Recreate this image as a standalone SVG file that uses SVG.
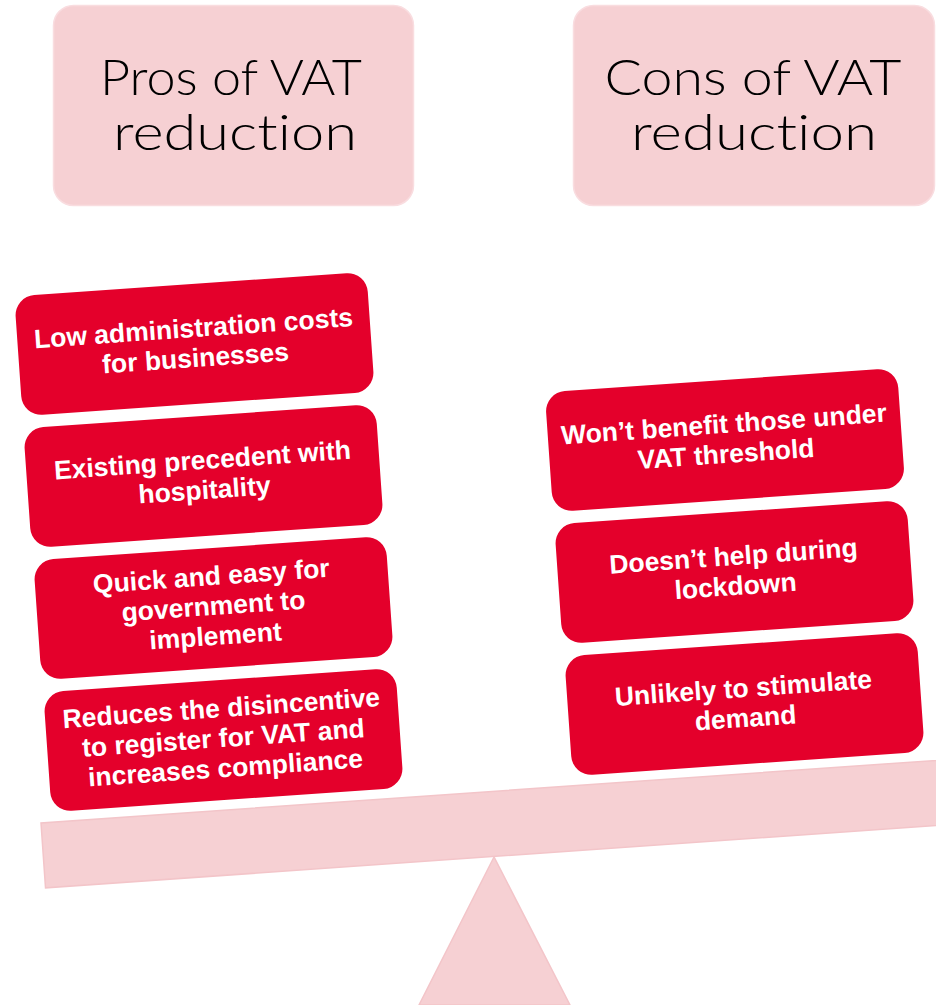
<svg xmlns="http://www.w3.org/2000/svg" width="936" height="1005" viewBox="0 0 936 1005">
<style>
.hdr{fill:#F6D0D3;stroke:#F9DDE0;stroke-width:1.5}
.ht{font-family:Lato,"DejaVu Sans",sans-serif;font-weight:300;font-size:49px;fill:#000;text-anchor:middle;font-variant-ligatures:none;font-feature-settings:"liga" 0,"clig" 0,"dlig" 0}
.card{fill:#E4002B}
.ct{font-family:"Liberation Sans",Arial,sans-serif;font-weight:bold;font-size:26.5px;fill:#fff;text-anchor:middle}
.scale{fill:#F6D0D3;stroke:#F3C5C9;stroke-width:1.5}
</style>
<rect width="936" height="1005" fill="#fff"/>
<g id="fulcrum"><polygon class="scale" points="494,857 419,1005 570,1005"/></g>
<g id="beam"><rect class="scale" x="41" y="823" width="920" height="65" transform="rotate(-4 41 823)"/></g>
<g id="pros-header">
<rect class="hdr" x="53.5" y="5.5" width="360" height="200" rx="20"/>
<text class="ht" x="231" y="95" textLength="262" lengthAdjust="spacingAndGlyphs">Pros of VAT</text>
<text class="ht" x="235" y="150" textLength="244" lengthAdjust="spacingAndGlyphs">reduction</text>
</g>
<g id="cons-header">
<rect class="hdr" x="573.5" y="5.5" width="361" height="200" rx="20"/>
<text class="ht" x="753" y="95" textLength="297" lengthAdjust="spacingAndGlyphs">Cons of VAT</text>
<text class="ht" x="754" y="150" textLength="246" lengthAdjust="spacingAndGlyphs">reduction</text>
</g>
<g id="pro1" transform="translate(194.5 344) rotate(-4)">
<rect class="card" x="-176.5" y="-60" width="353" height="120" rx="20"/>
<text class="ct" x="0" y="-7">Low administration costs</text>
<text class="ct" x="0" y="23">for businesses</text>
</g>
<g id="pro2" transform="translate(203.5 476) rotate(-4)">
<rect class="card" x="-176.5" y="-60" width="353" height="120" rx="20"/>
<text class="ct" x="0" y="-7">Existing precedent with</text>
<text class="ct" x="0" y="23">hospitality</text>
</g>
<g id="pro3" transform="translate(213.5 608) rotate(-4)">
<rect class="card" x="-176.5" y="-60" width="353" height="120" rx="20"/>
<text class="ct" x="0" y="-23">Quick and easy for</text>
<text class="ct" x="0" y="7">government to</text>
<text class="ct" x="0" y="37">implement</text>
</g>
<g id="pro4" transform="translate(223.5 740) rotate(-4)">
<rect class="card" x="-176.5" y="-60" width="353" height="120" rx="20"/>
<text class="ct" x="0" y="-23">Reduces the disincentive</text>
<text class="ct" x="0" y="7">to register for VAT and</text>
<text class="ct" x="0" y="37">increases compliance</text>
</g>
<g id="con1" transform="translate(725 440) rotate(-4)">
<rect class="card" x="-176.5" y="-60" width="353" height="120" rx="20"/>
<text class="ct" x="0" y="-7">Won’t benefit those under</text>
<text class="ct" x="0" y="23">VAT threshold</text>
</g>
<g id="con2" transform="translate(734.5 572) rotate(-4)">
<rect class="card" x="-176.5" y="-60" width="353" height="120" rx="20"/>
<text class="ct" x="0" y="-7">Doesn’t help during</text>
<text class="ct" x="0" y="23">lockdown</text>
</g>
<g id="con3" transform="translate(744.5 704) rotate(-4)">
<rect class="card" x="-176.5" y="-60" width="353" height="120" rx="20"/>
<text class="ct" x="0" y="-7">Unlikely to stimulate</text>
<text class="ct" x="0" y="23">demand</text>
</g>
<g id="connectors"/>
</svg>
